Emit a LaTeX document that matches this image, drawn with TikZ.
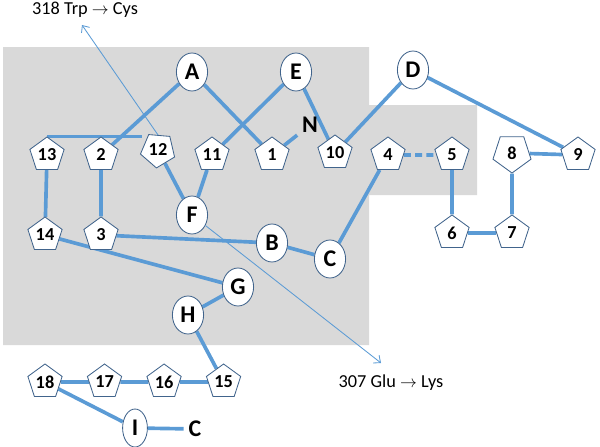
\documentclass[tikz,border=0pt]{standalone}
\usepackage{fontspec}
\setmainfont{Carlito}
\usetikzlibrary{positioning}
\usetikzlibrary{calc}
\usetikzlibrary{arrows.meta}
\usetikzlibrary{shapes.geometric}
\pgfdeclarelayer{background}
\pgfsetlayers{background,main}
\definecolor{bondcolor}{RGB}{91, 155, 213}
\definecolor{bordercolor}{RGB}{65, 100, 140}
\definecolor{shadecolor}{RGB}{217, 217, 217}
\tikzstyle{bond} = [line width=2.6pt, bondcolor]
\tikzstyle{dashbond} = [line width=2.6pt, bondcolor, dash pattern=on 5pt off 3pt]
\tikzstyle{pointer} = [-{Straight Barb[length=4pt, width=7pt]}, line width=0.6pt, bondcolor]
\tikzstyle{pent} = [regular polygon, regular polygon sides=5, draw=bordercolor, fill=white, line width=0.6pt, minimum size=0.9cm, inner sep=0pt, font=\fontsize{13}{13}\selectfont\bfseries]
\tikzstyle{elem} = [ellipse, draw=bordercolor, fill=white, line width=0.6pt, minimum width=0.78cm, minimum height=0.95cm, inner sep=0pt, font=\fontsize{17}{17}\selectfont\bfseries]
\tikzstyle{letter} = [font=\fontsize{17}{17}\selectfont\bfseries]
\tikzstyle{tag} = [font=\fontsize{13}{13}\selectfont]

\begin{document}
\begin{tikzpicture}[x=0.025cm, y=-0.025cm, node distance=0.7cm]

		\useasboundingbox (0,0) rectangle (600,447);

		%
		% Top elements
		\node [elem] at (192,72) (el_A) {A};
		\node [elem] at (296,72) (el_E) {E};
		\node [elem] at (413,70) (el_D) {D};
		\node [letter] at (310,125) (el_N) {N};

		% Top row of pentagons
		\node [pent] at (47,155) (pt_13) {13};
		\node [pent] at (101,155) (pt_2) {2};
		\node [pent, shape border rotate=175] at (158,150) (pt_12) {12};
		\node [pent] at (212,155) (pt_11) {11};
		\node [pent] at (272,155) (pt_1) {1};
		\node [pent] at (335,153) (pt_10) {10};
		\node [pent] at (388,155) (pt_4) {4};
		\node [pent] at (452,155) (pt_5) {5};
		\node [pent, shape border rotate=180, minimum size=1cm] at (512,153) (pt_8) {8};
		\node [pent] at (578,155) (pt_9) {9};

		%
		% Middle
		\node [pent] at (45,235) (pt_14) {14};
		\node [pent] at (pt_2 |- pt_14) (pt_3) {3};
		\node [elem] at (192,215) (el_F) {F};
		\node [elem] at (272,243) (el_B) {B};
		\node [elem] at (330,259) (el_C) {C};
		\node [pent] at (452,233) (pt_6) {6};
		\node [pent] at (pt_8 |- pt_6) (pt_7) {7};
		\node [elem] at (238,287) (el_G) {G};
		\node [elem] at (188,315) (el_H) {H};

		%
		% Bottom row
		\node [pent] at (45,382) (pt_18) {18};
		\node [pent, right=of pt_18] (pt_17) {17};
		\node [pent, right=of pt_17] (pt_16) {16};
		\node [pent, right=of pt_16] (pt_15) {15};
		\node [elem, minimum width=0.62cm] at (135,428) (el_I) {I};
		\node [letter] at (195,429) (el_Cterm) {C};

		%
		% Mutations
		\node [tag] at (85,10) (lbl_318) {318 Trp $\rightarrow$ Cys};
		\node [tag] at (391,383) (lbl_307) {307 Glu $\rightarrow$ Lys};
		\coordinate (tip_318) at (82,25);
		\coordinate (tip_307) at (381,363);

		\draw [pointer] (pt_12.90) -- (tip_318);
		\draw [pointer] (el_F) -- (tip_307);

		%
		% Shaded region and connections
		\begin{pgfonlayer}{background}
			\fill [shadecolor] (3,47) -| (369,105) -| (477,195) -| (369,345) -- (3,345) -- cycle;

			\draw [bond] (el_A) -- (pt_2);
			\draw [bond] (el_A) -- (pt_1);
			\draw [bond] (el_E) -- (pt_11);
			\draw [bond] (el_E) -- (pt_10);
			\draw [bond] (el_D) -- (pt_10);
			\draw [bond] (el_D) -- (pt_9);
			\draw [bond] (pt_1) -- (el_N);
			\draw [bond] (pt_13.north) -- (pt_12.west |- pt_13.north);
			\draw [bond] (pt_12) -- (el_F);
			\draw [bond] (pt_11) -- (el_F);
			\draw [bond] (pt_13) -- (pt_14);
			\draw [bond] (pt_2) -- (pt_3);
			\draw [bond] (pt_3) -- (el_B);
			\draw [bond] (el_B) -- (el_C);
			\draw [bond] (el_C) -- (pt_4);
			\draw [dashbond] (pt_4) -- (pt_5);
			\draw [bond] (pt_5) -- (pt_6);
			\draw [bond] (pt_6) -- (pt_7);
			\draw [bond] (pt_7) -- (pt_8);
			\draw [bond] (pt_8) -- (pt_9);
			\draw [bond] (pt_14) -- (el_G);
			\draw [bond] (el_G) -- (el_H);
			\draw [bond] (el_H) -- (pt_15);
			\draw [bond] (pt_15) -- (pt_16);
			\draw [bond] (pt_16) -- (pt_17);
			\draw [bond] (pt_17) -- (pt_18);
			\draw [bond] (pt_18) -- (el_I);
			\draw [bond] (el_I) -- (el_Cterm);
		\end{pgfonlayer}

	\end{tikzpicture}
\end{document}
